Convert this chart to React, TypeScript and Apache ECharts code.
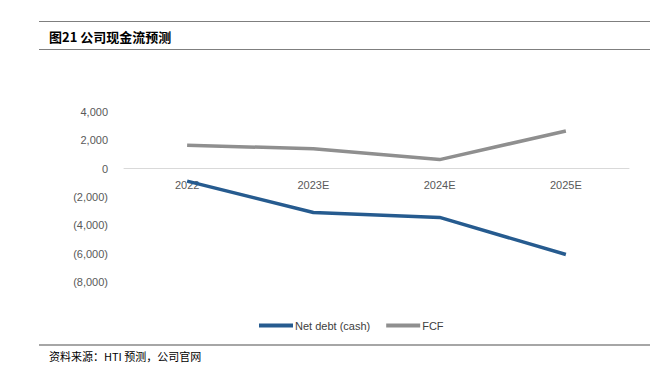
import React, { useEffect, useRef } from "react";
import * as echarts from "echarts";

const categories = ["2022", "2023E", "2024E", "2025E"];
const netDebt = [-880, -3090, -3440, -6060];
const fcf = [1650, 1410, 640, 2660];
const yTicks = { min: -8000, max: 4000, interval: 2000 };
const titleText = "图21 公司现金流预测";
const sourceText = "资料来源：HTI 预测，公司官网";

function fmt(v: number): string {
  const s = Math.abs(v).toLocaleString("en-US");
  return v < 0 ? `(${s})` : s;
}

export default function App() {
  const ref = useRef<HTMLDivElement>(null);
  useEffect(() => {
    if (!ref.current) return;
    const chart = echarts.init(ref.current, undefined, { renderer: "svg" });
    const font = "'Liberation Sans', 'Noto Sans CJK SC', sans-serif";
    const gridTop = 112;
    const gridBottom = 95;
    const plotH = 377 - gridTop - gridBottom;
    const zeroOffset = -(plotH * (0 - yTicks.min)) / (yTicks.max - yTicks.min);
    chart.setOption({
      animation: false,
      backgroundColor: "#ffffff",
      textStyle: { fontFamily: font },
      grid: { left: 124, right: 31, top: gridTop, bottom: gridBottom, containLabel: false },
      xAxis: {
        type: "category",
        data: categories,
        boundaryGap: true,
        offset: zeroOffset,
        axisLine: { onZero: false, lineStyle: { color: "#d9d9d9", width: 1 } },
        axisTick: { show: false },
        axisLabel: { color: "#595959", fontSize: 11, margin: 11, fontFamily: font },
      },
      yAxis: {
        type: "value",
        min: yTicks.min,
        max: yTicks.max,
        interval: yTicks.interval,
        splitLine: { show: false },
        axisLine: { show: false },
        axisTick: { show: false },
        axisLabel: {
          color: "#595959",
          fontSize: 11,
          margin: 16,
          fontFamily: font,
          formatter: (v: number) => fmt(v),
        },
      },
      legend: {
        left: 254,
        top: 315,
        icon: "rect",
        itemWidth: 34,
        itemHeight: 4,
        itemGap: 16,
        textStyle: { color: "#404040", fontSize: 11, fontFamily: font, padding: [0, 0, 0, -3] },
        data: ["Net debt (cash)", "FCF"],
      },
      series: [
        {
          name: "Net debt (cash)",
          type: "line",
          data: netDebt,
          symbol: "none",
          lineStyle: { color: "#265b8f", width: 3.5 },
          itemStyle: { color: "#265b8f" },
          z: 3,
        },
        {
          name: "FCF",
          type: "line",
          data: fcf,
          symbol: "none",
          lineStyle: { color: "#8f8f8f", width: 3.5 },
          itemStyle: { color: "#8f8f8f" },
          z: 2,
        },
      ],
      graphic: [
        { type: "line", shape: { x1: 39, y1: 21.5, x2: 650, y2: 21.5 }, style: { stroke: "#7f7f7f", lineWidth: 1 } },
        { type: "line", shape: { x1: 39, y1: 49.5, x2: 650, y2: 49.5 }, style: { stroke: "#7f7f7f", lineWidth: 1 } },
        {
          type: "text",
          x: 49,
          y: 36,
          style: {
            text: titleText,
            fill: "#000000",
            font: "bold 13px 'Noto Sans CJK SC', sans-serif",
            textVerticalAlign: "middle",
          },
        },
        { type: "line", shape: { x1: 39, y1: 345, x2: 650, y2: 345 }, style: { stroke: "#a6a6a6", lineWidth: 2 } },
        {
          type: "text",
          x: 49,
          y: 356,
          style: {
            text: sourceText,
            fill: "#000000",
            font: "11px 'Noto Sans CJK SC', sans-serif",
            textVerticalAlign: "middle",
          },
        },
      ],
    });
    return () => chart.dispose();
  }, []);
  return (
    <div
      ref={ref}
      style={{ position: "absolute", left: 0, top: 0, width: 660, height: 377 }}
    />
  );
}
